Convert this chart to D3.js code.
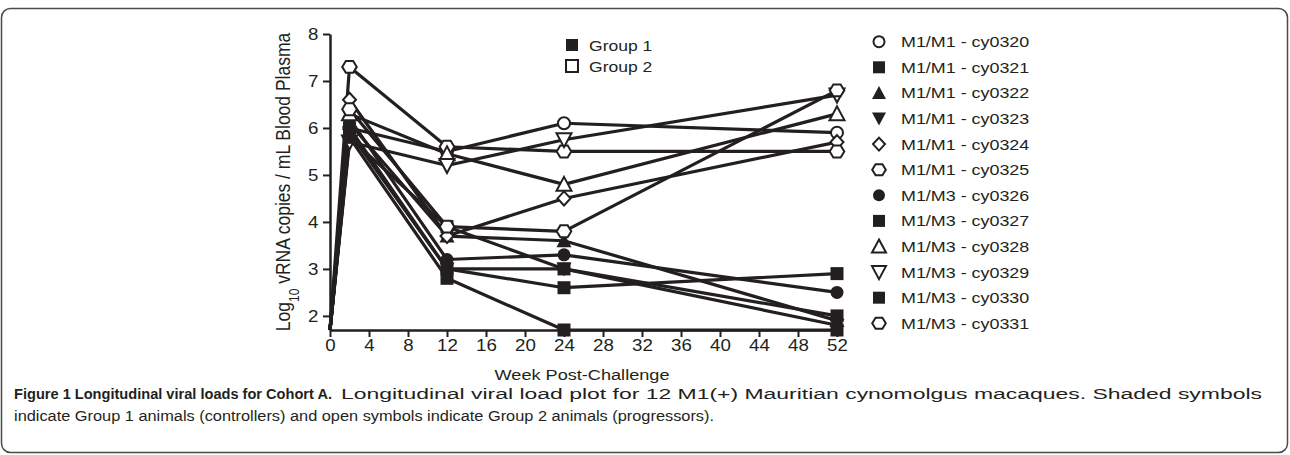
<!DOCTYPE html>
<html>
<head>
<meta charset="utf-8">
<script src="https://cdn.jsdelivr.net/npm/d3@7"></script>
<style>
  body { margin: 0; background: #fff; }
  text { font-family: "Liberation Sans", Arial, Helvetica, sans-serif; fill: #231f20; }
</style>
</head>
<body>
<div id="chart"></div>
<script>
const width = 1290;
const height = 455;

// weeks post challenge
const weeks = [0, 2, 12, 24, 52];

// animals, legend order
const animals = ["M1/M1 - cy0320", "M1/M1 - cy0321", "M1/M1 - cy0322", "M1/M1 - cy0323",
  "M1/M1 - cy0324", "M1/M1 - cy0325", "M1/M3 - cy0326", "M1/M3 - cy0327",
  "M1/M3 - cy0328", "M1/M3 - cy0329", "M1/M3 - cy0330", "M1/M3 - cy0331"];
const shapes = ["circle", "square", "triangle", "triangleDown", "diamond", "hexagon",
  "circle", "square", "triangle", "triangleDown", "square", "hexagon"];
const filled = [false, true, true, true, false, false, true, true, false, false, true, false];

// log10 vRNA copies per animal, one value per week
const cy0320 = [1.7, 6.0, 5.5, 6.1, 5.9];
const cy0321 = [1.7, 5.8, 2.8, 1.7, 1.7];
const cy0322 = [1.7, 6.1, 3.7, 3.6, 1.9];
const cy0323 = [1.7, 5.9, 3.0, 3.0, 1.8];
const cy0324 = [1.7, 6.6, 3.7, 4.5, 5.7];
const cy0325 = [1.7, 7.3, 5.6, 5.5, 5.5];
const cy0326 = [1.7, 6.2, 3.2, 3.3, 2.5];
const cy0327 = [1.7, 6.0, 3.0, 2.6, 2.9];
const cy0328 = [1.7, 6.3, 5.45, 4.8, 6.3];
const cy0329 = [1.7, 5.7, 5.2, 5.75, 6.7];
const cy0330 = [1.7, 5.8, 3.9, 3.0, 2.0];
const cy0331 = [1.7, 6.4, 3.9, 3.8, 6.8];
const loads = [cy0320, cy0321, cy0322, cy0323, cy0324, cy0325, cy0326, cy0327, cy0328, cy0329, cy0330, cy0331];

const yTicks = [2, 3, 4, 5, 6, 7, 8];
const xTicks = d3.range(0, 53, 4);
const groups = ["Group 1", "Group 2"];

const ink = "#231f20";
const sx = 1.17; // picture is stretched horizontally

const svg = d3.select("#chart")
  .append("svg")
  .attr("width", width)
  .attr("height", height);

// frame
svg.append("rect")
  .attr("x", 1.5).attr("y", 8.5)
  .attr("width", 1286).attr("height", 444)
  .attr("rx", 9)
  .attr("fill", "none")
  .attr("stroke", "#4a4a4a")
  .attr("stroke-width", 1.5);

const x = d3.scaleLinear().domain([0, 52]).range([330, 837]);
const y = d3.scaleLinear().domain([1.7, 8]).range([330, 34]);

// marker shapes
function shapePath(type, s) {
  const h = s / 2;
  let pts;
  if (type === "square") pts = [[-h, -h], [h, -h], [h, h], [-h, h]];
  else if (type === "triangle") pts = [[0, -h - 1], [h + 1, h], [-h - 1, h]];
  else if (type === "triangleDown") pts = [[0, h + 1], [h + 1, -h], [-h - 1, -h]];
  else if (type === "diamond") pts = [[0, -h - 0.5], [h, 0], [0, h + 0.5], [-h, 0]];
  else if (type === "hexagon") pts = d3.range(6).map(i => [Math.cos(i * Math.PI / 3) * (h + 0.8), Math.sin(i * Math.PI / 3) * (h + 0.4)]);
  else return null;
  return d3.line()(pts) + "Z";
}

function marker(g, type, isFilled, cx, cy, s) {
  let m;
  if (type === "circle") {
    m = g.append("circle").attr("cx", cx).attr("cy", cy).attr("r", isFilled ? s / 2 : s / 2 - 0.5);
  } else {
    m = g.append("path").attr("d", shapePath(type, s)).attr("transform", `translate(${cx},${cy})`);
  }
  m.attr("fill", isFilled ? ink : "#fff")
    .attr("stroke", ink)
    .attr("stroke-width", isFilled ? 0 : 2);
  return m;
}

function label(str, tx, ty, size, anchor) {
  return svg.append("text")
    .attr("transform", `translate(${tx},${ty}) scale(${sx},1)`)
    .attr("text-anchor", anchor || "start")
    .style("font-size", size + "px")
    .text(str);
}

// axes
const yAxis = svg.append("g")
  .attr("transform", `translate(${x(0)},0)`)
  .call(d3.axisLeft(y).tickValues(yTicks).tickSize(7).tickSizeOuter(0).tickPadding(3).tickFormat(d3.format("d")));
yAxis.select(".domain").attr("stroke", ink).attr("stroke-width", 2.5);
yAxis.selectAll(".tick line").attr("stroke", ink).attr("stroke-width", 2);
yAxis.selectAll(".tick text")
  .attr("transform", `scale(${sx},1)`)
  .style("font-size", "16px")
  .attr("font-family", null);

const xAxis = svg.append("g")
  .attr("transform", `translate(0,${y(1.7)})`)
  .call(d3.axisBottom(x).tickValues(xTicks).tickSize(7).tickSizeOuter(0).tickPadding(3));
xAxis.select(".domain").attr("stroke", ink).attr("stroke-width", 2.5);
xAxis.selectAll(".tick line").attr("stroke", ink).attr("stroke-width", 2);
xAxis.selectAll(".tick text")
  .attr("transform", `scale(${sx},1)`)
  .style("font-size", "16px")
  .attr("font-family", null);

// lines
const line = d3.line()
  .x((d, i) => x(weeks[i]))
  .y(d => y(d));

const plot = svg.append("g");
loads.forEach(vals => {
  plot.append("path")
    .attr("d", line(vals))
    .attr("fill", "none")
    .attr("stroke", ink)
    .attr("stroke-width", 3.2)
    .attr("stroke-linejoin", "round");
});

// markers (none at week 0)
loads.forEach((vals, k) => {
  vals.forEach((v, i) => {
    if (i === 0) return;
    marker(plot, shapes[k], filled[k], x(weeks[i]), y(v), 13);
  });
});

// axis titles
const yTitle = svg.append("text")
  .attr("transform", `translate(290,182) scale(${sx},1) rotate(-90)`)
  .attr("text-anchor", "middle")
  .style("font-size", "17.5px");
yTitle.append("tspan").text("Log");
yTitle.append("tspan").attr("baseline-shift", "sub").style("font-size", "12px").text("10");
yTitle.append("tspan").text(" vRNA copies / mL Blood Plasma");

label("Week Post-Challenge", 582, 380, 15.5, "middle");

// group legend
groups.forEach((gName, i) => {
  const cy = 45 + i * 21;
  marker(svg, "square", i === 0, 572, cy, 12);
  label(gName, 589, cy + 5.5, 15);
});

// animal legend
animals.forEach((a, i) => {
  const cy = 41.7 + i * 25.6;
  marker(svg, shapes[i], filled[i], 879, cy, 12);
  label(a, 901, cy + 5.5, 15.3);
});

// caption
svg.append("text")
  .attr("x", 14).attr("y", 399)
  .attr("textLength", 318).attr("lengthAdjust", "spacingAndGlyphs")
  .style("font-size", "15.5px").style("font-weight", "bold")
  .text("Figure 1 Longitudinal viral loads for Cohort A.");
svg.append("text")
  .attr("x", 341).attr("y", 399)
  .attr("textLength", 921).attr("lengthAdjust", "spacingAndGlyphs")
  .style("font-size", "15.5px")
  .text("Longitudinal viral load plot for 12 M1(+) Mauritian cynomolgus macaques. Shaded symbols");
svg.append("text")
  .attr("x", 14).attr("y", 421)
  .attr("textLength", 700).attr("lengthAdjust", "spacingAndGlyphs")
  .style("font-size", "15.5px")
  .text("indicate Group 1 animals (controllers) and open symbols indicate Group 2 animals (progressors).");
</script>
</body>
</html>
